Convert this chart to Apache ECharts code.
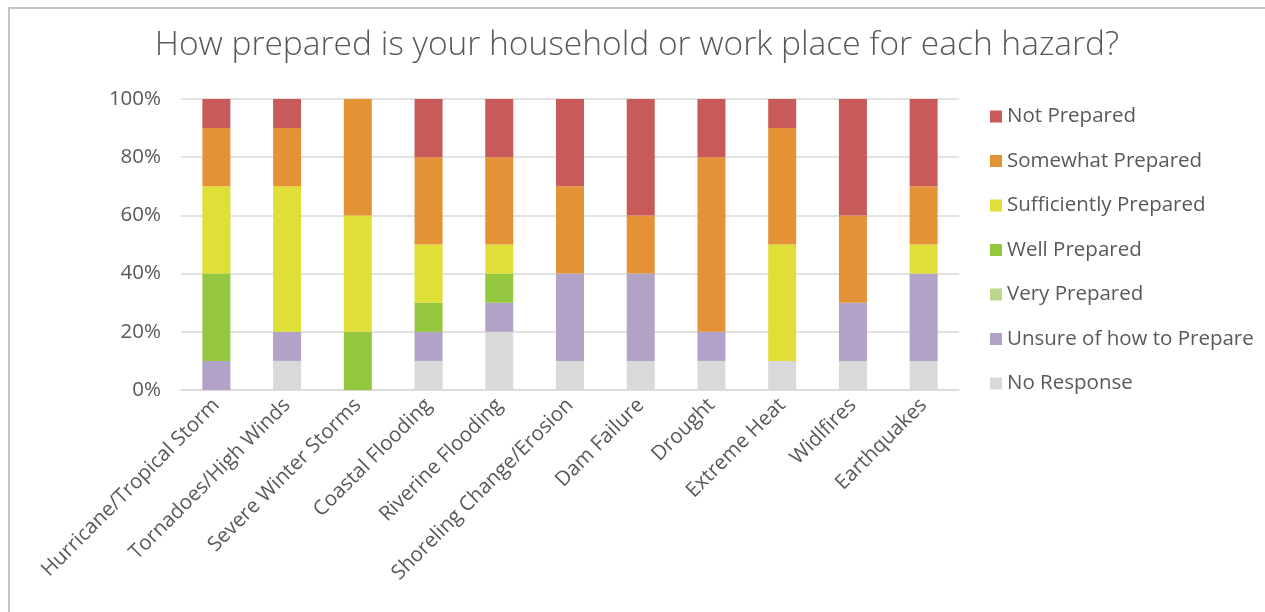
<!DOCTYPE html>
<html>
<head>
<meta charset="utf-8">
<script src="https://cdn.jsdelivr.net/npm/echarts@6/dist/echarts.min.js"></script>
<style>
html,body{margin:0;padding:0;background:#fff;}
#frame{position:absolute;left:8px;top:7px;width:1255px;height:620px;border-left:2px solid #c4c4c4;border-top:2px solid #c4c4c4;border-right:1px solid #d0d0d0;}
#chart{position:absolute;left:0;top:0;width:1265px;height:612px;}
</style>
</head>
<body>
<div id="frame"></div>
<div id="chart"></div>
<script>
const categories = ["Hurricane/Tropical Storm","Tornadoes/High Winds","Severe Winter Storms","Coastal Flooding","Riverine Flooding","Shoreling Change/Erosion","Dam Failure","Drought","Extreme Heat","Widlfires","Earthquakes"];
const noResponse   = [0, 10, 0, 10, 20, 10, 10, 10, 10, 10, 10];
const unsure       = [10, 10, 0, 10, 10, 30, 30, 10, 0, 20, 30];
const veryPrepared = [0, 0, 0, 0, 0, 0, 0, 0, 0, 0, 0];
const wellPrepared = [30, 0, 20, 10, 10, 0, 0, 0, 0, 0, 0];
const sufficiently = [30, 50, 40, 20, 10, 0, 0, 0, 40, 0, 10];
const somewhat     = [20, 20, 40, 30, 30, 30, 20, 60, 40, 30, 20];
const notPrepared  = [10, 10, 0, 20, 20, 30, 40, 20, 10, 40, 30];
const yTicks = ["0%","20%","40%","60%","80%","100%"];

const seriesDefs = [
  {name:"No Response", data:noResponse, color:"#d9d9d9"},
  {name:"Unsure of how to Prepare", data:unsure, color:"#b3a2c7"},
  {name:"Very Prepared", data:veryPrepared, color:"#bcd68f"},
  {name:"Well Prepared", data:wellPrepared, color:"#93c73d"},
  {name:"Sufficiently Prepared", data:sufficiently, color:"#dfdf37"},
  {name:"Somewhat Prepared", data:somewhat, color:"#e39336"},
  {name:"Not Prepared", data:notPrepared, color:"#c95a5a"}
];

const chart = echarts.init(document.getElementById('chart'));
const font = "'Open Sans', sans-serif";
chart.setOption({
  animation:false,
  title:{text:"How prepared is your household or work place for each hazard?", left:632, top:23, textAlign:'center',
    textStyle:{fontFamily:font, fontSize:33.5, fontWeight:300, color:'#595959'}},
  legend:{orient:'vertical', left:985, top:101, itemGap:23.5, itemWidth:12, itemHeight:12, icon:'rect',
    data:seriesDefs.map(s=>s.name).reverse(),
    textStyle:{fontFamily:font, fontSize:20.5, color:'#595959', padding:[0,0,0,0]}},
  grid:{left:181, right:306, top:99, bottom:222},
  xAxis:{type:'category', data:categories,
    axisLine:{lineStyle:{color:'#d9d9d9', width:1.5}}, axisTick:{show:false},
    axisLabel:{rotate:45, interval:0, fontFamily:font, fontSize:20.5, color:'#595959', margin:12}},
  yAxis:{type:'value', min:0, max:100, interval:20,
    axisLine:{show:false}, axisTick:{show:false},
    splitLine:{lineStyle:{color:'#d9d9d9', width:1.5}},
    axisLabel:{formatter:(v)=>yTicks[v/20], fontFamily:font, fontSize:20.5, color:'#595959', margin:20}},
  series:seriesDefs.map(s=>({name:s.name, type:'bar', stack:'total', data:s.data, barWidth:28,
    itemStyle:{color:s.color}}))
});
</script>
</body>
</html>
